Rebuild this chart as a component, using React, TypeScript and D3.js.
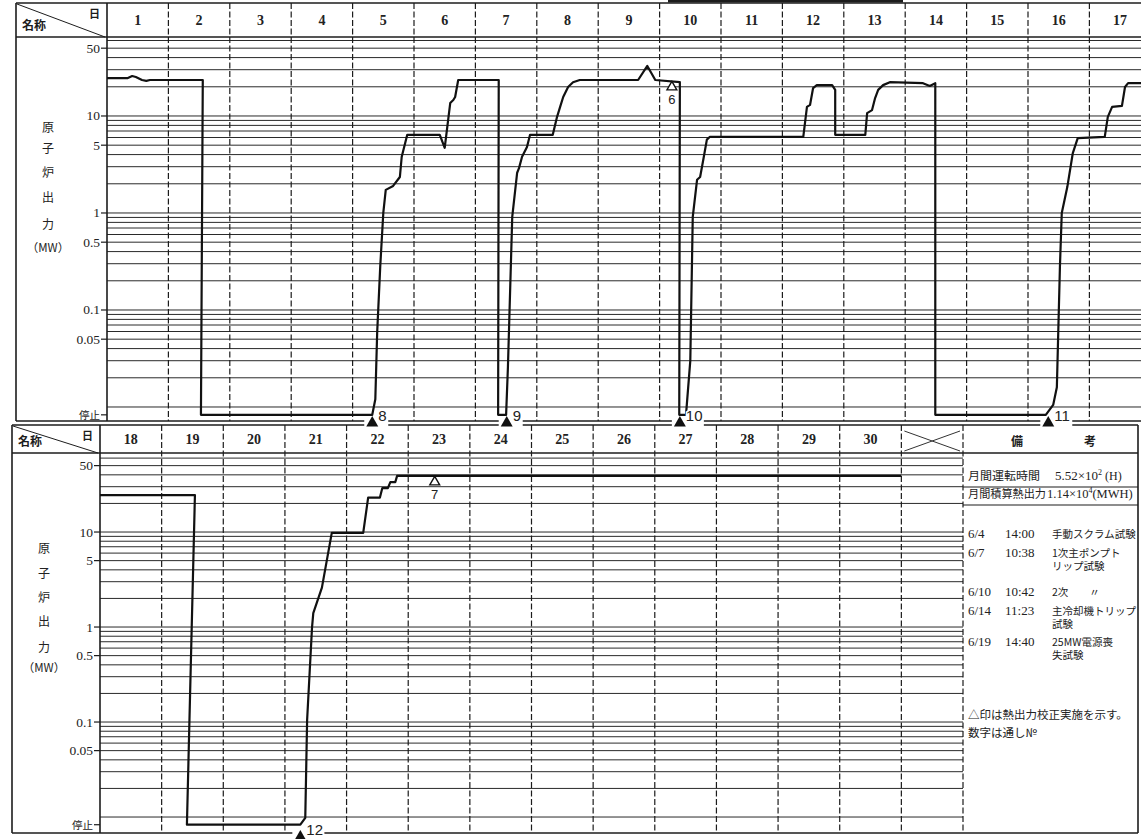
import React, { useEffect, useRef } from 'react';
import * as d3 from 'd3';

const W = 1141;
const H = 839;

// 日付
const topDays = [1, 2, 3, 4, 5, 6, 7, 8, 9, 10, 11, 12, 13, 14, 15, 16, 17];
const bottomDays = [18, 19, 20, 21, 22, 23, 24, 25, 26, 27, 28, 29, 30];

// 縦軸目盛 (MW)
const yLabels = [50, 10, 5, 1, 0.5, 0.1, 0.05];
const STOP = 0.0083; // 停止
const axisTitle = ['原', '子', '炉', '出', '力', '（MW）'];

// 原子炉出力 [日, MW]
const topTrace: [number, number][] = [
  [1.0, 24.6], [1.34, 24.6], [1.41, 25.8], [1.47, 25.2], [1.57, 23.5], [1.64, 23.0], [1.7, 23.5],
  [2.56, 23.5], [2.53, STOP], [5.32, STOP], [5.37, 0.012], [5.4, 0.058], [5.45, 0.28], [5.5, 1.0],
  [5.54, 1.73], [5.66, 1.9], [5.77, 2.35], [5.8, 3.8], [5.89, 6.4], [6.42, 6.4], [6.5, 4.7],
  [6.59, 13.6], [6.64, 14.6], [6.67, 15.7], [6.72, 23.5], [7.38, 23.5], [7.37, STOP], [7.5, STOP],
  [7.53, 0.026], [7.6, 0.91], [7.68, 2.6], [7.71, 2.9], [7.76, 3.8], [7.84, 4.8], [7.89, 6.4],
  [8.26, 6.4], [8.33, 9.8], [8.38, 12.4], [8.43, 15.7], [8.51, 19.9], [8.59, 22.3], [8.7, 23.5],
  [9.65, 23.5], [9.8, 32.8], [9.93, 23.5], [10.33, 22.3], [10.32, STOP], [10.43, STOP],
  [10.5, 0.03], [10.54, 0.91], [10.61, 2.2], [10.66, 2.35], [10.71, 3.5], [10.77, 5.7], [10.82, 6.1],
  [12.34, 6.1], [12.4, 12.4], [12.45, 13.0], [12.5, 19.4], [12.56, 20.8], [12.81, 20.8], [12.86, 18.6],
  [12.86, 6.4], [13.35, 6.4], [13.38, 10.7], [13.46, 11.5], [13.51, 15.3], [13.56, 18.6], [13.64, 20.8],
  [13.75, 22.3], [14.29, 21.8], [14.4, 20.4], [14.49, 21.8], [14.49, STOP], [16.29, STOP],
  [16.41, 0.0105], [16.47, 0.016], [16.52, 0.28], [16.55, 1.0], [16.64, 1.85], [16.73, 4.15],
  [16.81, 5.9], [17.25, 6.1], [17.3, 9.8], [17.37, 12.4], [17.53, 12.7], [17.58, 19.9], [17.63, 21.8],
  [18.2, 21.8],
];

const bottomTrace: [number, number][] = [
  [18.0, 24.5], [19.54, 24.5], [19.41, STOP], [21.25, STOP], [21.33, 0.0098], [21.36, 0.105],
  [21.44, 1.0], [21.46, 1.4], [21.6, 2.6], [21.76, 9.8], [22.27, 9.8], [22.35, 23], [22.54, 23],
  [22.58, 29], [22.67, 29], [22.71, 33.5], [22.79, 33.5], [22.82, 39], [31.0, 39],
];

// ▲ スクラム（通し番号）
const scrams = [
  { day: 5.32, no: 8 },
  { day: 7.51, no: 9 },
  { day: 10.33, no: 10 },
  { day: 16.33, no: 11 },
  { day: 21.25, no: 12 },
];

// △ 熱出力校正
const calibs = [
  { day: 10.2, mw: 19.9, no: 6 },
  { day: 23.43, mw: 33.6, no: 7 },
];

// 備考
const monthlyHours = ['5.52×10', '2', ' (H)'];
const monthlyHeat = ['1.14×10', '4', '(MWH)'];
const remarks = [
  { date: '6/4', time: '14:00', text: ['手動スクラム試験'] },
  { date: '6/7', time: '10:38', text: ['1次主ポンプト', 'リップ試験'] },
  { date: '6/10', time: '10:42', text: ['2次　　〃'] },
  { date: '6/14', time: '11:23', text: ['主冷却機トリップ', '試験'] },
  { date: '6/19', time: '14:40', text: ['25MW電源喪', '失試験'] },
];
const notes = ['△印は熱出力校正実施を示す。', '数字は通し№'];

const SERIF = "'Liberation Serif','DejaVu Serif','Noto Sans CJK JP',serif";
const JP = "'Noto Sans CJK JP','Liberation Serif',sans-serif";
const SANS = "'Liberation Sans','DejaVu Sans',sans-serif";
const INK = '#1c1c1c';

const topPanel = {
  frameLeft: 16, axisX: 107, frameRight: 1160, gridRight: 1160,
  headTop: 3, headBottom: 37, bottom: 421,
  dayStart: 1, dayEnd: 18, xEnd: 1150.8,
  yDomain: [0.00717, 65.2], tickLeft: 101,
  titleX: 48, titleYs: [127, 148, 172, 197, 224, 247],
};

const bottomPanel = {
  frameLeft: 12, axisX: 100, frameRight: 1138, gridRight: 963,
  headTop: 425, headBottom: 453, bottom: 833,
  dayStart: 18, dayEnd: 32, xEnd: 963,
  yDomain: [0.00679, 67.9], tickLeft: 94,
  titleX: 44, titleYs: [548, 573, 597, 621, 647, 667],
};

function drawPanel(svg: any, p: any, days: number[], trace: [number, number][]) {
  const x = d3.scaleLinear().domain([p.dayStart, p.dayEnd]).range([p.axisX, p.xEnd]);
  const y = d3.scaleLog().domain(p.yDomain).range([p.bottom, p.headBottom]);
  const g = svg.append('g');

  // horizontal grid
  const grid = y.ticks().filter((v: number) => v >= 0.0099 && v <= 61);
  g.selectAll('.grid').data(grid).enter().append('line')
    .attr('x1', p.axisX).attr('x2', p.gridRight)
    .attr('y1', (d: number) => y(d)).attr('y2', (d: number) => y(d))
    .attr('stroke', '#2a2a2a').attr('stroke-width', 1);

  // day columns (dashed)
  const cols = d3.range(p.dayStart + 1, p.dayEnd + 1);
  g.selectAll('.col').data(cols).enter().append('line')
    .attr('x1', (d: number) => x(d)).attr('x2', (d: number) => x(d))
    .attr('y1', p.headTop).attr('y2', p.bottom)
    .attr('stroke', INK).attr('stroke-width', 1.2).attr('stroke-dasharray', '6,2.5');

  // frame
  const frame = [
    [p.frameLeft, p.headTop, p.frameRight, p.headTop],
    [p.frameLeft, p.headBottom, p.frameRight, p.headBottom],
    [p.frameLeft, p.bottom, p.frameRight, p.bottom],
    [p.frameLeft, p.headTop, p.frameLeft, p.bottom],
    [p.axisX, p.headTop, p.axisX, p.bottom],
    [p.frameRight, p.headTop, p.frameRight, p.bottom],
  ];
  g.selectAll('.frame').data(frame).enter().append('line')
    .attr('x1', (d: number[]) => d[0]).attr('y1', (d: number[]) => d[1])
    .attr('x2', (d: number[]) => d[2]).attr('y2', (d: number[]) => d[3])
    .attr('stroke', INK).attr('stroke-width', 1.6);

  // header: 名称 / 日
  g.append('line')
    .attr('x1', p.frameLeft + 1).attr('y1', p.headTop + 1)
    .attr('x2', p.axisX - 2).attr('y2', p.headBottom)
    .attr('stroke', INK).attr('stroke-width', 1);
  g.append('text').attr('x', p.frameLeft + 6).attr('y', p.headBottom - 7)
    .attr('font-family', JP).attr('font-size', 12).attr('font-weight', 700).attr('fill', INK)
    .text('名称');
  g.append('text').attr('x', p.axisX - 18).attr('y', p.headTop + 15)
    .attr('font-family', JP).attr('font-size', 11).attr('font-weight', 700).attr('fill', INK)
    .text('日');

  g.selectAll('.day').data(days).enter().append('text')
    .attr('x', (d: number) => x(d + 0.5))
    .attr('y', (p.headTop + p.headBottom) / 2 + 5)
    .attr('text-anchor', 'middle')
    .attr('font-family', SERIF).attr('font-size', 14).attr('font-weight', 700).attr('fill', '#222')
    .text((d: number) => d);

  // y ticks and labels
  const ticks = yLabels.map(v => ({ v, label: String(v) })).concat([{ v: STOP, label: '停止' }]);
  g.selectAll('.tick').data(ticks).enter().append('line')
    .attr('x1', p.tickLeft).attr('x2', p.axisX)
    .attr('y1', (d: any) => y(d.v)).attr('y2', (d: any) => y(d.v))
    .attr('stroke', INK).attr('stroke-width', 1.2);
  g.selectAll('.tlabel').data(ticks).enter().append('text')
    .attr('x', p.tickLeft - 1).attr('y', (d: any) => y(d.v) + 4.5)
    .attr('text-anchor', 'end')
    .attr('font-family', (d: any) => (d.v === STOP ? JP : SERIF))
    .attr('font-size', (d: any) => (d.v === STOP ? 10.5 : 13.5))
    .attr('fill', '#222')
    .text((d: any) => d.label);

  // axis title (vertical)
  g.selectAll('.atitle').data(axisTitle).enter().append('text')
    .attr('x', p.titleX).attr('y', (d: string, i: number) => p.titleYs[i] + 5)
    .attr('text-anchor', 'middle')
    .attr('font-family', JP).attr('font-size', (d: string) => (d.length > 1 ? 11.5 : 12))
    .attr('fill', '#222')
    .text((d: string) => d);

  // reactor power trace
  const line = d3.line<[number, number]>().x(d => x(d[0])).y(d => y(d[1]));
  g.append('path').attr('d', line(trace))
    .attr('fill', 'none').attr('stroke', '#111').attr('stroke-width', 2.2)
    .attr('stroke-linejoin', 'round');

  return { x, y, g };
}

export default function App() {
  const ref = useRef<SVGSVGElement>(null);

  useEffect(() => {
    const svg = d3.select(ref.current);
    svg.selectAll('*').remove();
    svg.append('rect').attr('width', W).attr('height', H).attr('fill', '#fff');

    // title box edge (cut off at top)
    svg.append('line').attr('x1', 668).attr('x2', 903).attr('y1', 1).attr('y2', 1)
      .attr('stroke', INK).attr('stroke-width', 3);

    const top = drawPanel(svg, topPanel, topDays, topTrace);
    const bot = drawPanel(svg, bottomPanel, bottomDays, bottomTrace);

    // X cell in bottom header
    const xc0 = bot.x(31), xc1 = bot.x(32);
    [[xc0 + 3, bottomPanel.headTop + 6, xc1 - 3, bottomPanel.headBottom - 2],
     [xc0 + 3, bottomPanel.headBottom - 2, xc1 - 3, bottomPanel.headTop + 6]].forEach(l => {
      svg.append('line').attr('x1', l[0]).attr('y1', l[1]).attr('x2', l[2]).attr('y2', l[3])
        .attr('stroke', '#333').attr('stroke-width', 1);
    });

    // scram markers ▲ with serial no.
    const tri = d3.symbol().type(d3.symbolTriangle);
    scrams.forEach(s => {
      const panel = s.day < 18 ? top : bot;
      const base = s.day < 18 ? topPanel.bottom + 2 : bottomPanel.bottom + 4;
      const px = panel.x(s.day);
      svg.append('rect').attr('x', px - 8).attr('y', base - 7)
        .attr('width', 16 + String(s.no).length * 8).attr('height', 10).attr('fill', '#fff');
      svg.append('path').attr('d', tri.size(62)())
        .attr('transform', `translate(${px},${base})`).attr('fill', '#111');
      svg.append('text').attr('x', px + 6).attr('y', base - 2)
        .attr('font-family', SANS).attr('font-size', 15).attr('fill', '#222')
        .attr('stroke', '#fff').attr('stroke-width', 3).attr('paint-order', 'stroke')
        .text(s.no);
    });

    // calibration markers △
    calibs.forEach(c => {
      const panel = c.day < 18 ? top : bot;
      const px = panel.x(c.day), py = panel.y(c.mw);
      svg.append('path').attr('d', tri.size(42)())
        .attr('transform', `translate(${px},${py})`)
        .attr('fill', '#fff').attr('stroke', '#111').attr('stroke-width', 1.4);
      svg.append('text').attr('x', px).attr('y', py + 17).attr('text-anchor', 'middle')
        .attr('font-family', SANS).attr('font-size', 13).attr('fill', '#222').text(c.no);
    });

    // remarks column
    const rx = 968;
    const rg = svg.append('g').attr('fill', '#222');
    rg.append('text').attr('x', 1017).attr('y', 446).attr('text-anchor', 'middle')
      .attr('font-family', JP).attr('font-size', 12).attr('font-weight', 700).text('備');
    rg.append('text').attr('x', 1090).attr('y', 446).attr('text-anchor', 'middle')
      .attr('font-family', JP).attr('font-size', 12).attr('font-weight', 700).text('考');

    rg.append('text').attr('x', rx).attr('y', 480).attr('font-family', JP).attr('font-size', 11.5)
      .attr('textLength', 72).attr('lengthAdjust', 'spacingAndGlyphs').text('月間運転時間');
    const h = rg.append('text').attr('x', 1055).attr('y', 480).attr('font-family', SERIF).attr('font-size', 13);
    h.append('tspan').text(monthlyHours[0]);
    h.append('tspan').attr('dy', -5).attr('font-size', 8).text(monthlyHours[1]);
    h.append('tspan').attr('dy', 5).attr('font-size', 12).text(monthlyHours[2]);

    rg.append('text').attr('x', rx).attr('y', 498).attr('font-family', JP).attr('font-size', 11.5)
      .attr('textLength', 78).attr('lengthAdjust', 'spacingAndGlyphs').text('月間積算熱出力');
    const q = rg.append('text').attr('x', 1047).attr('y', 498).attr('font-family', SERIF).attr('font-size', 12.5);
    q.append('tspan').text(monthlyHeat[0]);
    q.append('tspan').attr('dy', -5).attr('font-size', 8).text(monthlyHeat[1]);
    q.append('tspan').attr('dy', 5).text(monthlyHeat[2]);

    [487, 505].forEach(ly => {
      svg.append('line').attr('x1', 963).attr('x2', 1138).attr('y1', ly).attr('y2', ly)
        .attr('stroke', INK).attr('stroke-width', 1.2);
    });

    const rowY = [538, 557, 596, 615, 646];
    remarks.forEach((r, i) => {
      rg.append('text').attr('x', rx).attr('y', rowY[i]).attr('font-family', SERIF).attr('font-size', 13).text(r.date);
      rg.append('text').attr('x', 1005).attr('y', rowY[i]).attr('font-family', SERIF).attr('font-size', 13).text(r.time);
      r.text.forEach((t, j) => {
        rg.append('text').attr('x', 1052).attr('y', rowY[i] + j * 13).attr('font-family', JP)
          .attr('font-size', 10.5).text(t);
      });
    });

    notes.forEach((n, i) => {
      rg.append('text').attr('x', rx).attr('y', 719 + i * 18).attr('font-family', JP)
        .attr('font-size', 11.5).text(n);
    });
  }, []);

  return (
    <svg ref={ref} width={W} height={H}
      style={{ position: 'absolute', left: 0, top: 0, display: 'block' }} />
  );
}
